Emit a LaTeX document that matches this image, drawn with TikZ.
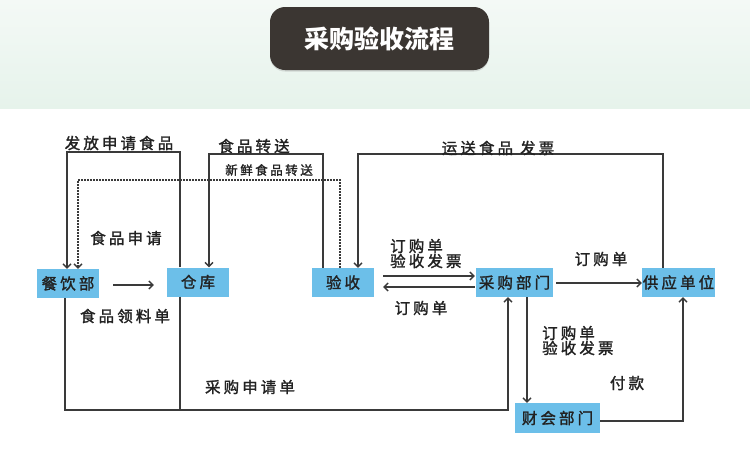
\documentclass[tikz,border=0pt]{standalone}
\usepackage{fontspec}
\newfontfamily\cjk[LetterSpace=20,FakeBold=1.6]{Noto Sans CJK SC}
\newfontfamily\cjktitle{Noto Sans CJK SC}
\usetikzlibrary{arrows.meta,calc,shadows}
\definecolor{boxblue}{HTML}{6CBFE9}
\definecolor{linegray}{HTML}{3A3A3A}
\definecolor{txt}{HTML}{222222}
\definecolor{titlebg}{HTML}{3B3632}
\definecolor{bandtop}{HTML}{F4F9F6}
\definecolor{bandbot}{HTML}{E6F3EB}
\begin{document}
\begin{tikzpicture}[x=1pt,y=-1pt,
  unit/.style={fill=boxblue,inner sep=0pt,minimum height=29pt,text=txt,font=\cjk\fontsize{15.5}{17}\selectfont},
  lbl/.style={text=txt,inner sep=0pt,font=\cjk\fontsize{15.5}{15}\selectfont,align=left},
  conn/.style={draw=linegray,line width=1.3pt},
  arr/.style={conn,-{Straight Barb[length=4pt,width=8pt]}},
  dots/.style={dash pattern=on 1.5pt off 1.5pt}]
\useasboundingbox (0,0) rectangle (750,459);
\fill[white] (0,0) rectangle (750,459);
\shade[top color=bandtop,bottom color=bandbot] (0,0) rectangle (750,108);
\node[fill=titlebg,rounded corners=15pt,minimum width=219pt,minimum height=63pt,
  drop shadow={opacity=0.25,shadow xshift=0pt,shadow yshift=-1.5pt},
  text=white,font=\cjktitle\bfseries\fontsize{25}{28}\selectfont] (title) at (379.5,38.5) {采购验收流程};
% units
\node[unit,minimum width=62pt] (canyin) at (68,283.5) {餐饮部};
\node[unit,minimum width=62pt] (cangku) at (198,282) {仓库};
\node[unit,minimum width=62pt] (yanshou) at (343,282.5) {验收};
\node[unit,minimum width=77pt] (caigou) at (514.5,282.5) {采购部门};
\node[unit,minimum width=73pt] (gongying) at (678.5,282.5) {供应单位};
\node[unit,minimum width=85pt,minimum height=30pt] (caiwu) at (557.5,418) {财会部门};
% connectors
\draw[arr] (cangku.north -| 180,0) -- (180,152) -- (67,152) -- (canyin.north -| 67,0);
\draw[arr,dots] (yanshou.north -| 340,0) -- (340,180) -- (78,180) -- (canyin.north -| 78,0);
\draw[arr] (yanshou.north -| 323,0) -- (323,154) -- (209,154) -- (cangku.north -| 209,0);
\draw[arr] (gongying.north -| 663,0) -- (663,154) -- (358,154) -- (yanshou.north -| 358,0);
\draw[conn] (cangku.south -| 180,0) -- (180,410);
\draw[arr] (canyin.south -| 65,0) -- (65,410) -- (508,410) -- (caigou.south -| 508,0);
\draw[arr] ($(canyin.east)+(14,1.5)$) -- ($(cangku.west)+(-13,3)$);
\draw[arr] ($(yanshou.east)+(9,-6.5)$) -- ($(caigou.west)+(-1,-6.5)$);
\draw[arr] ($(caigou.west)+(-1,4.5)$) -- ($(yanshou.east)+(9,4.5)$);
\draw[arr] ($(caigou.east)+(3,0.5)$) -- ($(gongying.west)+(0,0.5)$);
\draw[arr] (caigou.south -| 527,0) -- (caiwu.north -| 527,0);
\draw[arr] ($(caiwu.east)+(0,3)$) -- ($(caiwu.east -| 683,0)+(0,3)$) -- (gongying.south -| 683,0);
% labels
\node[lbl] (l1) at (119,143) {发放申请食品};
\node[lbl] (l2) at (254,146) {食品转送};
\node[lbl,font=\cjk\fontsize{12.5}{14}\selectfont] (l3) at (269,170) {新鲜食品转送};
\node[lbl] (l4) at (498,148) {运送食品\hspace{7pt}发票};
\node[lbl] (l5) at (126,238) {食品申请};
\node[lbl] (l6) at (125,316) {食品领料单};
\node[lbl] (l7) at (250,387) {采购申请单};
\node[lbl,anchor=west] (l8) at (390,253.5) {订购单\\验收发票};
\node[lbl] (l9) at (421,308) {订购单};
\node[lbl] (l10) at (601,259) {订购单};
\node[lbl,anchor=west] (l11) at (542,340.5) {订购单\\验收发票};
\node[lbl] (l12) at (627,383) {付款};
\end{tikzpicture}
\end{document}
